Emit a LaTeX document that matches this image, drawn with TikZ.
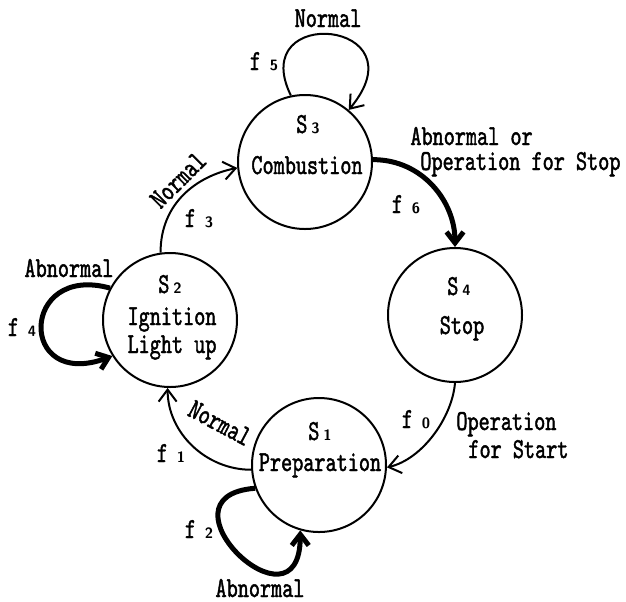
\documentclass[tikz,border=0pt]{standalone}
\usepackage{fontspec}
\usepackage{tikz}
\usetikzlibrary{arrows.meta}
\newfontfamily\lblfont{lmmono10-regular.otf}[FakeStretch=0.73,FakeBold=1.5]
\newcommand\subidx[1]{\hspace{2pt}{\sffamily\bfseries\fontsize{7.5}{8}\selectfont #1}}

\tikzset{
  state/.style={circle, draw, line width=1pt, minimum size=67pt, inner sep=0pt},
  txt/.style={font=\lblfont\fontsize{14.5}{16}\selectfont, inner sep=0pt},
  go/.style={-{Straight Barb[length=6pt,width=9pt]}, line width=1pt},
  fail/.style={-{Straight Barb[length=5.5pt,width=8.5pt]}, line width=2.5pt}
}

\begin{document}
\begin{tikzpicture}[x=0.5pt, y=-0.5pt]
  \useasboundingbox (0,0) rectangle (626,601);
  % states
  \node[state] (s3) at (305,162) {};
  \node[state] (s2) at (170,320) {};
  \node[state] (s4) at (455,315) {};
  \node[state] (s1) at (319,465) {};
  % texts inside the states
  \node[txt, anchor=base] (s3a) at (308,133) {S\subidx{3}};
  \node[txt, anchor=base] (s3b) at (307,174) {Combustion};
  \node[txt, anchor=base] (s2a) at (170,293) {S\subidx{2}};
  \node[txt, anchor=base] (s2b) at (172,325) {Ignition};
  \node[txt, anchor=base] (s2c) at (172,353) {Light up};
  \node[txt, anchor=base] (s4a) at (459,295) {S\subidx{4}};
  \node[txt, anchor=base] (s4b) at (462,334) {Stop};
  \node[txt, anchor=base] (s1a) at (320,440) {S\subidx{1}};
  \node[txt, anchor=base] (s1b) at (320,471) {Preparation};
  % transitions
  \draw[go] (s3.102) .. controls +(-45,-92) and +(75,-90) .. (s3.50);
  \draw[fail] (s3.2) .. controls +(50,0) and +(0,-45) .. (s4.90);
  \draw[go] (s4.270) .. controls +(-3,35) and +(35,-8) .. (s1.358);
  \draw[go] (s1.184) .. controls +(-45,0) and +(0,45) .. (s2.268);
  \draw[fail] (s1.200) .. controls +(-105,8) and +(0,110) .. (s1.254);
  \draw[fail] (s2.152) .. controls +(-90,-25) and +(-95,35) .. (s2.212);
  \draw[go] (s2.98) .. controls +(0,-50) and +(-40,8) .. (s3.185);
  % transition labels
  \node[txt, anchor=base] (n5) at (328,27) {Normal};
  \node[txt, anchor=base] (f5) at (264,70) {f\,\subidx{5}};
  \node[txt, anchor=base west] (a6) at (410,145) {Abnormal or};
  \node[txt, anchor=base west] (o6) at (420,170) {Operation for Stop};
  \node[txt, anchor=base] (f6) at (406,213) {f\,\subidx{6}};
  \node[txt, rotate=45] (n3) at (178,180) {Normal};
  \node[txt, anchor=base] (f3) at (199,227) {f\,\subidx{3}};
  \node[txt, anchor=base] (a4) at (69,277) {Abnormal};
  \node[txt, anchor=base] (f4) at (22,336) {f\,\subidx{4}};
  \node[txt, rotate=-28] (n1) at (220,423) {Normal};
  \node[txt, anchor=base] (f1) at (171,462) {f\,\subidx{1}};
  \node[txt, anchor=base] (f2) at (199,538) {f\,\subidx{2}};
  \node[txt, anchor=base] (a2) at (260,597) {Abnormal};
  \node[txt, anchor=base] (f0) at (416,428) {f\,\subidx{0}};
  \node[txt, anchor=base west] (o0) at (456,430) {Operation};
  \node[txt, anchor=base west] (s0) at (468,458) {for Start};
\end{tikzpicture}
\end{document}
